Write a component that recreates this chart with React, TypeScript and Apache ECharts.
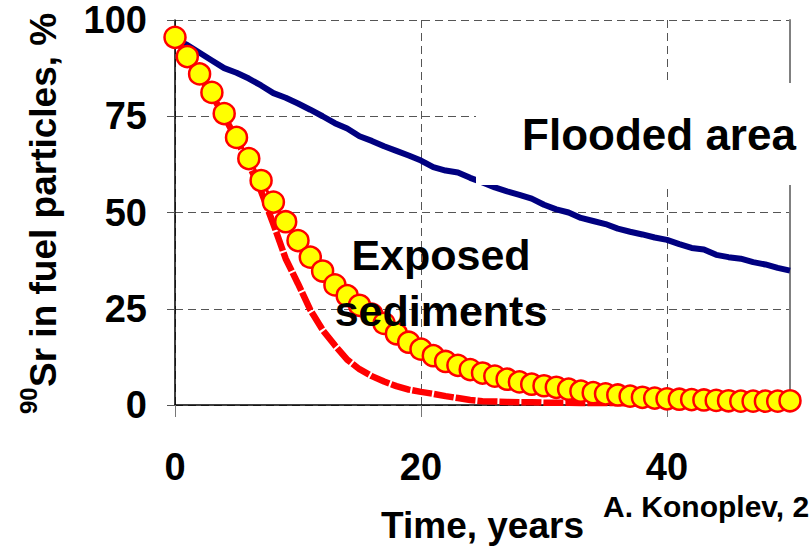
import React, { useEffect, useRef } from "react";
import * as echarts from "echarts";

const YEARS = [0, 1, 2, 3, 4, 5, 6, 7, 8, 9, 10, 11, 12, 13, 14, 15, 16, 17, 18, 19, 20, 21, 22, 23, 24, 25, 26, 27, 28, 29, 30, 31, 32, 33, 34, 35, 36, 37, 38, 39, 40, 41, 42, 43, 44, 45, 46, 47, 48, 49, 50];

// Flooded area (navy line)
const FLOODED = [95, 93.5, 91.5, 89.5, 87.5, 86.3, 84.8, 83.0, 81.0, 79.8, 78.3, 76.7, 75.0, 73.2, 71.8, 69.8, 68.6, 67.2, 66.0, 64.8, 63.5, 61.8, 60.9, 60.4, 59.0, 57.8, 56.5, 55.5, 54.6, 53.6, 52.0, 50.8, 50.0, 48.6, 47.8, 47.0, 45.8, 45.0, 44.3, 43.5, 42.9, 41.8, 40.8, 40.4, 39.0, 38.4, 38.0, 37.1, 36.5, 35.6, 34.9];

// Exposed sediments, red dashed curve
const EXPOSED_FAST = [95.5, 90.5, 85.5, 80.5, 75, 69, 62.5, 55.5, 47, 38, 31.5, 24.7, 19.5, 15.5, 11.8, 9.3, 7.5, 6.1, 4.9, 4.0, 3.4, 2.9, 2.3, 1.8, 1.3, 1.0, 0.9, 0.8, 0.7, 0.7, 0.6, 0.6, 0.6, 0.5, 0.5, 0.5, 0.5, 0.4, 0.4, 0.4, 0.4, 0.4, 0.3, 0.3, 0.3, 0.3, 0.3, 0.3, 0.3, 0.3, 0.3];

// Exposed sediments, yellow circle markers
const EXPOSED_SLOW = [95.5, 90.5, 86, 81.2, 75.7, 69.5, 64, 58.3, 52.7, 47.6, 42.7, 38.4, 34.8, 31.2, 28.4, 25.9, 23.6, 21.2, 18.5, 16.3, 14.5, 12.8, 11.3, 10.3, 9.2, 8.3, 7.5, 6.7, 6.0, 5.4, 5.0, 4.6, 4.1, 3.6, 3.2, 2.9, 2.6, 2.3, 2.0, 1.8, 1.6, 1.5, 1.4, 1.3, 1.2, 1.1, 1.0, 1.0, 1.0, 1.0, 1.1];

const FONT = '"Liberation Sans", Arial, Helvetica, sans-serif';

const pairs = (vals: number[]) => YEARS.map((t, i) => [t, vals[i]]);

export default function App() {
  const ref = useRef<HTMLDivElement>(null);

  useEffect(() => {
    document.body.style.margin = "0";
    if (!ref.current) return;
    const chart = echarts.init(ref.current, null, { renderer: "svg" });
    const gridDash = { color: "#555", width: 1, type: [8, 5] as any };
    chart.setOption({
      animation: false,
      backgroundColor: "#fff",
      grid: { left: 175, right: 21, top: 20, bottom: 146, containLabel: false },
      xAxis: {
        type: "value",
        min: 0,
        max: 50,
        interval: 20,
        name: "Time, years",
        nameLocation: "middle",
        nameGap: 102,
        nameTextStyle: { fontFamily: FONT, fontWeight: "bold", fontSize: 37, color: "#000" },
        axisLine: { show: true, onZero: false, lineStyle: { color: "#000", width: 1.5 } },
        axisTick: { show: true, length: 12, lineStyle: { color: "#777", width: 1 } },
        axisLabel: {
          showMaxLabel: false,
          margin: 43,
          fontFamily: FONT,
          fontWeight: "bold",
          fontSize: 38,
          color: "#000",
        },
        splitLine: { show: true, lineStyle: gridDash },
      },
      yAxis: [
        {
          type: "value",
          min: 0,
          max: 100,
          interval: 25,
          axisLine: { show: true, lineStyle: { color: "#000", width: 1.5 } },
          axisTick: { show: true, length: 12, lineStyle: gridDash },
          axisLabel: {
            margin: 28,
            fontFamily: FONT,
            fontWeight: "bold",
            fontSize: 38,
            color: "#000",
          },
          splitLine: { show: true, lineStyle: gridDash },
        },
        {
          type: "value",
          position: "right",
          min: 0,
          max: 100,
          axisLine: { show: true, lineStyle: { color: "#808080", width: 2 } },
          axisTick: { show: false },
          axisLabel: { show: false },
          splitLine: { show: false },
        },
      ],
      series: [
        {
          name: "Flooded area",
          type: "line",
          data: pairs(FLOODED),
          showSymbol: false,
          symbol: "none",
          lineStyle: { color: "#000080", width: 6 },
          z: 3,
        },
        {
          name: "Exposed sediments (model)",
          type: "line",
          data: pairs(EXPOSED_FAST),
          showSymbol: false,
          symbol: "none",
          lineStyle: { color: "#FF0000", width: 6.5, type: [20, 2] as any, cap: "butt" },
          z: 4,
        },
        {
          name: "Exposed sediments",
          type: "line",
          data: pairs(EXPOSED_SLOW),
          symbol: "circle",
          symbolSize: 21,
          itemStyle: { color: "#FFFF00", borderColor: "#FF0000", borderWidth: 2.5 },
          lineStyle: { color: "#FF0000", width: 3 },
          z: 5,
        },
      ],
      graphic: [
        {
          type: "rect",
          z: 50,
          shape: { x: 476, y: 83, width: 335, height: 102 },
          style: { fill: "#fff" },
        },
        {
          type: "text",
          z: 51,
          x: 659,
          y: 134,
          style: {
            text: "Flooded area",
            fontFamily: FONT,
            fontWeight: "bold",
            fontSize: 44,
            fill: "#000",
            align: "center",
            verticalAlign: "middle",
            textAlign: "center",
            textVerticalAlign: "middle",
          },
        },
        {
          type: "text",
          z: 51,
          x: 441,
          y: 227,
          style: {
            text: "Exposed\nsediments",
            fontFamily: FONT,
            fontWeight: "bold",
            fontSize: 43,
            lineHeight: 56,
            fill: "#000",
            align: "center",
            verticalAlign: "top",
            textAlign: "center",
            textVerticalAlign: "top",
          },
        },
        {
          type: "text",
          z: 51,
          x: 603,
          y: 506,
          style: {
            text: "A. Konoplev, 2",
            fontFamily: FONT,
            fontWeight: "bold",
            fontSize: 30,
            fill: "#000",
            align: "left",
            verticalAlign: "middle",
            textAlign: "left",
            textVerticalAlign: "middle",
          },
        },
        {
          type: "group",
          x: 43,
          y: 214,
          rotation: Math.PI / 2,
          z: 51,
          children: [
            {
              type: "text",
              z: 51,
              x: -200,
              y: -15,
              style: {
                text: "90",
                fontFamily: FONT,
                fontWeight: "bold",
                fontSize: 24,
                fill: "#000",
                align: "left",
                verticalAlign: "middle",
                textAlign: "left",
                textVerticalAlign: "middle",
              },
            },
            {
              type: "text",
              z: 51,
              x: -173,
              y: 0,
              style: {
                text: "Sr in fuel particles, %",
                fontFamily: FONT,
                fontWeight: "bold",
                fontSize: 37,
                fill: "#000",
                align: "left",
                verticalAlign: "middle",
                textAlign: "left",
                textVerticalAlign: "middle",
              },
            },
          ],
        },
      ],
    });
    return () => chart.dispose();
  }, []);

  return (
    <div
      ref={ref}
      style={{ position: "absolute", left: 0, top: 0, width: 811, height: 551 }}
    />
  );
}
